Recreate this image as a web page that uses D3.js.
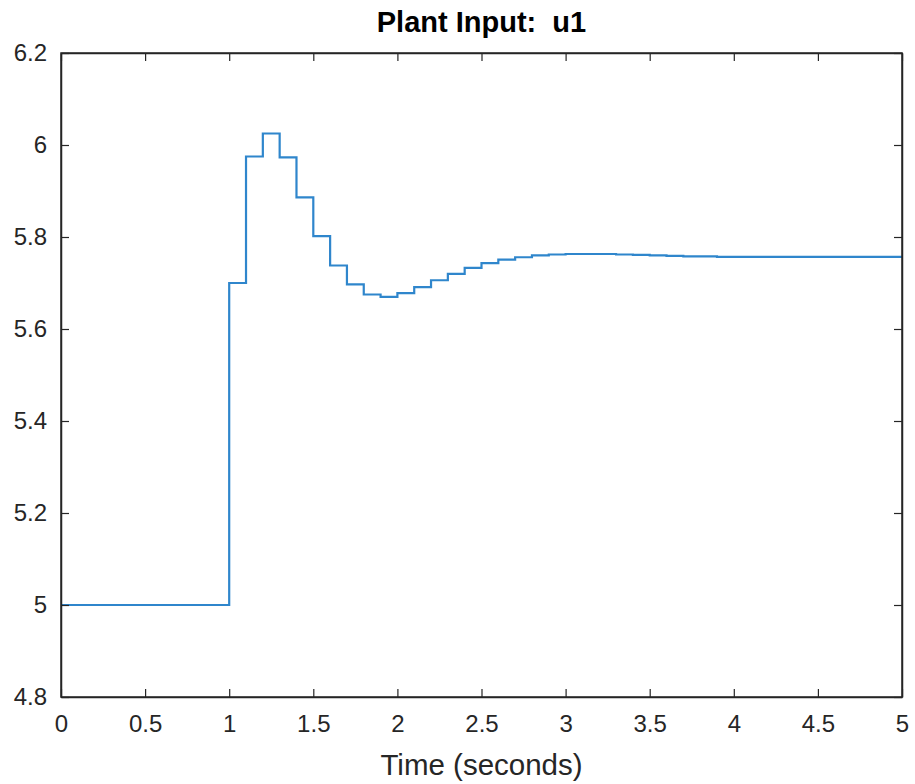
<!DOCTYPE html>
<html>
<head>
<meta charset="utf-8">
<script src="https://cdn.jsdelivr.net/npm/d3@7"></script>
<style>
  html, body { margin: 0; padding: 0; background: #fff; }
  svg { display: block; }
  text { font-family: "Liberation Sans", Arial, Helvetica, sans-serif; }
</style>
</head>
<body>
<svg id="chart" width="915" height="784"></svg>
<script>
// ---- data ----
const titleText = "Plant Input:  u1";
const xLabelText = "Time (seconds)";
const sampleTimes = [0.0,0.1,0.2,0.3,0.4,0.5,0.6,0.7,0.8,0.9,
                     1.0,1.1,1.2,1.3,1.4,1.5,1.6,1.7,1.8,1.9,
                     2.0,2.1,2.2,2.3,2.4,2.5,2.6,2.7,2.8,2.9,
                     3.0,3.1,3.2,3.3,3.4,3.5,3.6,3.7,3.8,3.9,
                     4.0,4.1,4.2,4.3,4.4,4.5,4.6,4.7,4.8,4.9,5.0];
const u1Values = [5.0,5.0,5.0,5.0,5.0,5.0,5.0,5.0,5.0,5.0,
                  5.700,5.975,6.025,5.973,5.886,5.802,5.738,5.697,5.675,5.670,
                  5.678,5.691,5.706,5.720,5.733,5.743,5.751,5.756,5.760,5.762,
                  5.763,5.763,5.763,5.762,5.761,5.760,5.759,5.758,5.758,5.757,
                  5.757,5.757,5.757,5.757,5.757,5.757,5.757,5.757,5.757,5.757,5.757];
const xTicks = [0,0.5,1,1.5,2,2.5,3,3.5,4,4.5,5];
const yTicks = [4.8,5,5.2,5.4,5.6,5.8,6,6.2];
const xDomain = [0,5];
const yDomain = [4.8,6.2];

// ---- layout ----
const mLeft = 61, mRight = 902, mTop = 53, mBottom = 697;
const textColor = "#262626";
const axisColor = "#262626";
const lineColor = "#2f86cc";

const svg = d3.select("#chart");
const x = d3.scaleLinear().domain(xDomain).range([mLeft, mRight]);
const y = d3.scaleLinear().domain(yDomain).range([mBottom, mTop]);
const fmt = d => String(+d.toFixed(1));

// data line (stairs)
const data = sampleTimes.map((t, i) => ({t, v: u1Values[i]}));
svg.append("path")
  .datum(data)
  .attr("fill", "none")
  .attr("stroke", lineColor)
  .attr("stroke-width", 2.2)
  .attr("d", d3.line().x(d => x(d.t)).y(d => y(d.v)).curve(d3.curveStepAfter));

const tickLen = 8;
const fontSize = 24;

const xAxisB = d3.axisBottom(x).tickValues(xTicks).tickFormat(fmt).tickSizeInner(-tickLen).tickSizeOuter(0).tickPadding(tickLen + 10);
const gB = svg.append("g").attr("transform", `translate(0,${mBottom})`).call(xAxisB);
const xAxisT = d3.axisTop(x).tickValues(xTicks).tickFormat("").tickSizeInner(-tickLen).tickSizeOuter(0);
const gT = svg.append("g").attr("transform", `translate(0,${mTop})`).call(xAxisT);
const yAxisL = d3.axisLeft(y).tickValues(yTicks).tickFormat(fmt).tickSizeInner(-tickLen).tickSizeOuter(0).tickPadding(tickLen + 6);
const gL = svg.append("g").attr("transform", `translate(${mLeft},0)`).call(yAxisL);
const yAxisR = d3.axisRight(y).tickValues(yTicks).tickFormat("").tickSizeInner(-tickLen).tickSizeOuter(0);
const gR = svg.append("g").attr("transform", `translate(${mRight},0)`).call(yAxisR);

[gB, gT, gL, gR].forEach(g => {
  g.select(".domain").attr("stroke", axisColor).attr("stroke-width", 1.5);
  g.selectAll(".tick line").attr("stroke", axisColor).attr("stroke-width", 1.2);
  g.selectAll(".tick text")
    .attr("fill", textColor)
    .style("font-size", fontSize + "px")
    .style("font-family", "'Liberation Sans', Arial, sans-serif");
});
svg.append("rect")
  .attr("x", mLeft).attr("y", mTop)
  .attr("width", mRight - mLeft).attr("height", mBottom - mTop)
  .attr("fill", "none").attr("stroke", axisColor).attr("stroke-width", 1.5);

svg.append("text")
  .attr("x", (mLeft + mRight) / 2)
  .attr("y", 32)
  .attr("text-anchor", "middle")
  .attr("fill", "#000")
  .style("font-size", "29px")
  .style("font-weight", "bold")
  .style("white-space", "pre")
  .attr("xml:space", "preserve")
  .text(titleText);

svg.append("text")
  .attr("x", (mLeft + mRight) / 2)
  .attr("y", 775)
  .attr("text-anchor", "middle")
  .attr("fill", textColor)
  .style("font-size", "29.5px")
  .text(xLabelText);
</script>
</body>
</html>
